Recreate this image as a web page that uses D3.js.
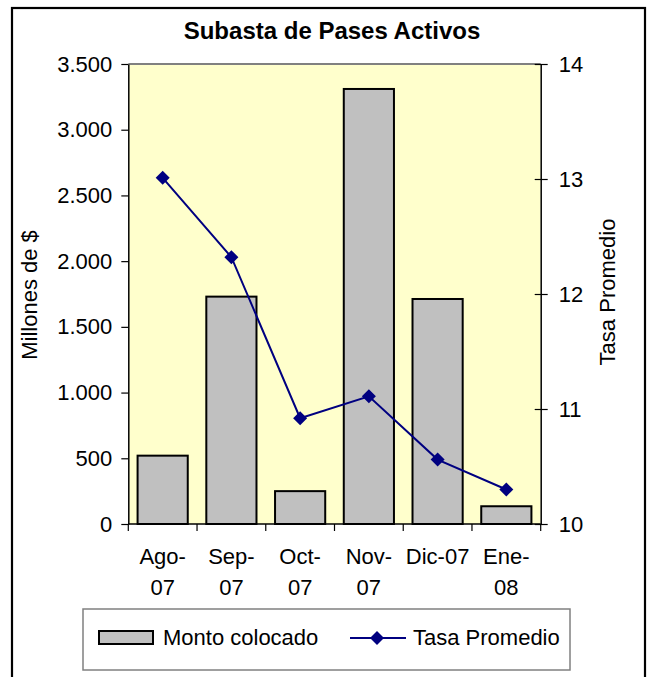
<!DOCTYPE html>
<html>
<head>
<meta charset="utf-8">
<script src="https://cdn.jsdelivr.net/npm/d3@7"></script>
<style>
  html, body { margin: 0; padding: 0; background: #fff; }
  svg text { font-family: "Liberation Sans", Arial, sans-serif; fill: #000; }
</style>
</head>
<body>
<svg id="chart" width="651" height="677"></svg>
<script>
// ---- data ----
const categories = ["Ago-07", "Sep-07", "Oct-07", "Nov-07", "Dic-07", "Ene-08"];
const categoryLabelLines = [["Ago-", "07"], ["Sep-", "07"], ["Oct-", "07"], ["Nov-", "07"], ["Dic-07"], ["Ene-", "08"]];
const montoColocado = [520, 1730, 250, 3310, 1712, 135];
const tasaPromedio = [13.01, 12.32, 10.92, 11.11, 10.56, 10.30];
const leftTicks = [0, 500, 1000, 1500, 2000, 2500, 3000, 3500];
const rightTicks = [10, 11, 12, 13, 14];
const chartTitle = "Subasta de Pases Activos";
const leftAxisTitle = "Millones de $";
const rightAxisTitle = "Tasa Promedio";
const seriesNames = ["Monto colocado", "Tasa Promedio"];

// ---- layout ----
const svg = d3.select("#chart");
const plot = { left: 128.3, right: 540.7, top: 64, bottom: 524 };
const fontSize = 22;

const locale = d3.formatLocale({ decimal: ",", thousands: ".", grouping: [3], currency: ["$", ""] });
const fmt = locale.format(",d");

const x = d3.scaleBand().domain(categories).range([plot.left, plot.right]).paddingInner(0.27).paddingOuter(0.135);
const xStep = d3.scaleBand().domain(categories).range([plot.left, plot.right]).padding(0);
const yL = d3.scaleLinear().domain([0, 3500]).range([plot.bottom, plot.top]);
const yR = d3.scaleLinear().domain([10, 14]).range([plot.bottom, plot.top]);

// outer border
svg.append("rect").attr("x", 12).attr("y", 8).attr("width", 633).attr("height", 700)
  .attr("fill", "none").attr("stroke", "#000").attr("stroke-width", 2.2);

// title
svg.append("text").attr("x", 332).attr("y", 38.5).attr("text-anchor", "middle")
  .style("font-size", "24px").style("font-weight", "bold").text(chartTitle);

// plot background
svg.append("rect").attr("x", plot.left).attr("y", plot.top)
  .attr("width", plot.right - plot.left).attr("height", plot.bottom - plot.top)
  .attr("fill", "#FFFFCC");
svg.append("line").attr("x1", plot.left).attr("x2", plot.right).attr("y1", plot.top).attr("y2", plot.top)
  .attr("stroke", "#808080").attr("stroke-width", 2);

// bars
svg.append("g").selectAll("rect").data(montoColocado).join("rect")
  .attr("x", (d, i) => x(categories[i]))
  .attr("width", x.bandwidth())
  .attr("y", d => yL(d))
  .attr("height", d => yL(0) - yL(d))
  .attr("fill", "#C0C0C0").attr("stroke", "#000").attr("stroke-width", 2);

// left axis
const gL = svg.append("g").attr("transform", `translate(${plot.left},0)`)
  .call(d3.axisLeft(yL).tickValues(leftTicks).tickFormat(fmt).tickSizeInner(7).tickSizeOuter(0).tickPadding(9));
gL.select(".domain").attr("stroke", "#000").attr("stroke-width", 1.5);
gL.selectAll(".tick line").attr("stroke", "#000").attr("stroke-width", 1.2);
gL.selectAll("text").style("font-size", fontSize + "px").attr("font-family", null);

// right axis
const gR = svg.append("g").attr("transform", `translate(${plot.right},0)`)
  .call(d3.axisRight(yR).tickValues(rightTicks).tickFormat(d3.format("d")).tickSizeInner(7).tickSizeOuter(0).tickPadding(11));
gR.select(".domain").attr("stroke", "#000").attr("stroke-width", 1.5);
gR.selectAll(".tick line").attr("x1", -6).attr("stroke", "#000").attr("stroke-width", 1.2);
gR.selectAll("text").style("font-size", fontSize + "px").attr("font-family", null);

// bottom axis
const gB = svg.append("g").attr("transform", `translate(0,${plot.bottom})`);
gB.append("line").attr("x1", plot.left).attr("x2", plot.right).attr("stroke", "#000").attr("stroke-width", 1.5);
const boundaries = categories.map(c => xStep(c)).concat([xStep(categories[categories.length - 1]) + xStep.bandwidth()]);
gB.selectAll(".bt").data(boundaries).join("line").attr("class", "bt")
  .attr("x1", d => d).attr("x2", d => d).attr("y1", 0).attr("y2", 7)
  .attr("stroke", "#000").attr("stroke-width", 1.2);
const lbl = gB.selectAll(".xl").data(categories).join("text").attr("class", "xl")
  .attr("text-anchor", "middle").style("font-size", fontSize + "px");
lbl.each(function (c, i) {
  const cx = xStep(c) + xStep.bandwidth() / 2;
  d3.select(this).selectAll("tspan").data(categoryLabelLines[i]).join("tspan")
    .attr("x", cx).attr("y", (d, j) => 40 + j * 31).text(d => d);
});

// line series
const lineGen = d3.line().x((d, i) => xStep(categories[i]) + xStep.bandwidth() / 2).y(d => yR(d));
svg.append("path").datum(tasaPromedio).attr("d", lineGen)
  .attr("fill", "none").attr("stroke", "#000080").attr("stroke-width", 2);
const diamond = "M0,-7L7,0L0,7L-7,0Z";
svg.append("g").selectAll("path").data(tasaPromedio).join("path")
  .attr("transform", (d, i) => `translate(${xStep(categories[i]) + xStep.bandwidth() / 2},${yR(d)})`)
  .attr("d", diamond).attr("fill", "#000080");

// axis titles
svg.append("text").attr("transform", "translate(37,295) rotate(-90)").attr("text-anchor", "middle")
  .style("font-size", fontSize + "px").text(leftAxisTitle);
svg.append("text").attr("transform", "translate(615,292) rotate(-90)").attr("text-anchor", "middle")
  .style("font-size", fontSize + "px").text(rightAxisTitle);

// legend
const lg = svg.append("g");
lg.append("rect").attr("x", 83).attr("y", 609).attr("width", 487).attr("height", 61)
  .attr("fill", "#fff").attr("stroke", "#808080").attr("stroke-width", 1.5);
lg.append("rect").attr("x", 99).attr("y", 631).attr("width", 54).attr("height", 13)
  .attr("fill", "#C0C0C0").attr("stroke", "#000").attr("stroke-width", 2);
lg.append("text").attr("x", 163).attr("y", 645).style("font-size", fontSize + "px").text(seriesNames[0]);
lg.append("line").attr("x1", 350).attr("x2", 406).attr("y1", 638).attr("y2", 638)
  .attr("stroke", "#000080").attr("stroke-width", 2);
lg.append("path").attr("transform", "translate(377,638)").attr("d", diamond).attr("fill", "#000080");
lg.append("text").attr("x", 413).attr("y", 645).style("font-size", fontSize + "px").text(seriesNames[1]);
</script>
</body>
</html>
